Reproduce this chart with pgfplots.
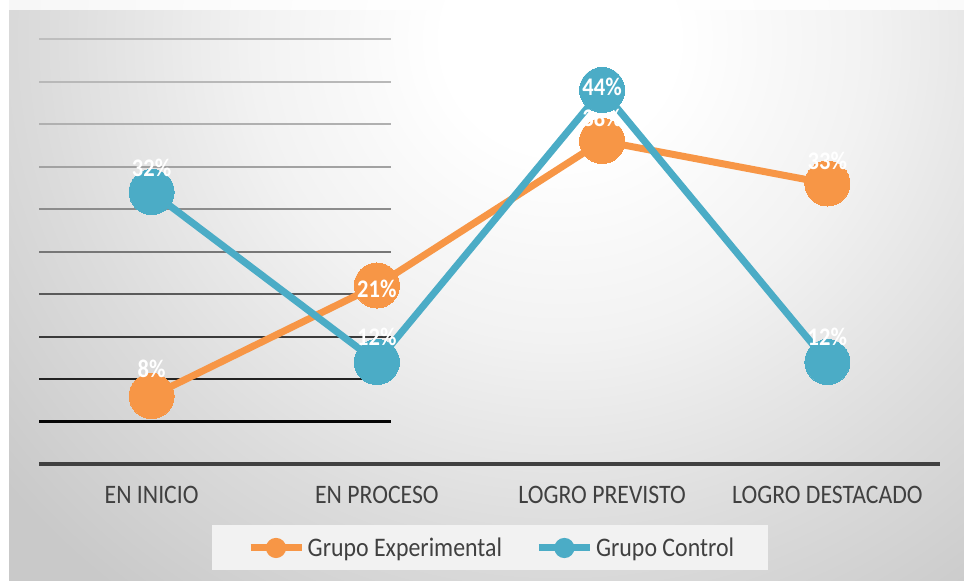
\documentclass[border=0pt]{standalone}
\usepackage{fontspec}
\usepackage{pgfplots}
\usepackage{pgfplotstable}
\pgfplotsset{compat=1.18}
\newfontfamily\catfont[FakeStretch=0.89]{Carlito}
\definecolor{orangeS}{HTML}{F79646}
\definecolor{blueS}{HTML}{4BACC6}
\definecolor{txtgray}{HTML}{404040}
\definecolor{bgA}{HTML}{FFFFFF}
\definecolor{bgB}{HTML}{F2F2F2}
\definecolor{bgC}{HTML}{DCDCDC}
\definecolor{bgD}{HTML}{C9C9C9}
\definecolor{legbg}{HTML}{F2F2F2}
\definecolor{g50}{HTML}{BEBEBE}
\definecolor{g45}{HTML}{B8B8B8}
\definecolor{g40}{HTML}{B0B0B0}
\definecolor{g35}{HTML}{A2A2A2}
\definecolor{g30}{HTML}{8C8C8C}
\definecolor{g25}{HTML}{777777}
\definecolor{g20}{HTML}{5A5A5A}
\definecolor{g15}{HTML}{3A3A3A}
\definecolor{g10}{HTML}{222222}
\definecolor{g05}{HTML}{050505}
\pgfdeclareradialshading{bgshade}{\pgfpointorigin}{color(0bp)=(bgA); color(4bp)=(bgA); color(10.7bp)=(bgB); color(17.9bp)=(bgC); color(25bp)=(bgD); color(50bp)=(bgD)}

\pgfplotstableread{
x y dy
0 8 20.6
1 21 -2.3
2 38 17.3
3 33 16.9
}\exptab
\pgfplotstableread{
x y dy
0 32 18
1 12 18.8
2 44 2.3
3 12 19.1
}\ctrltab

\pgfplotsset{
  labelled/.style={
    nodes near coords={\pgfmathprintnumber[assume math mode=true]{\pgfplotspointmeta}\%},
    visualization depends on={\thisrow{dy} \as \dy},
    every node near coord/.append style={anchor=center, yshift=\dy, text=white,
       font=\catfont\bfseries\fontsize{19pt}{20pt}\selectfont},
  },
  gridl/.style={forget plot, line width=1.5pt, no marks},
  legimg/.style={legend image code/.code={\draw[#1, line width=5.25pt] (0pt,0pt) -- (38.25pt,0pt);
     \fill[#1] (19.1pt,0pt) circle (4.9pt);}},
}

\begin{document}
\begin{tikzpicture}
\path[use as bounding box] (0,0) rectangle (723pt,-435.75pt);
\begin{scope}[x=0.75pt,y=-0.75pt]
\fill[white] (0,0) rectangle (964,581);
\begin{scope}
\clip (9,0) rectangle (964,581);
\fill[bgD] (9,0) rectangle (964,581);
\shade[shading=bgshade] (560,40) ellipse (720 and 700);
\end{scope}
\fill[white,opacity=0.8] (9,0) rectangle (964,10);
\fill[legbg] (212,525) rectangle (768,570);
\end{scope}
\begin{axis}[
  at={(29.25pt,-348pt)}, anchor=south west,
  scale only axis, width=675.75pt, height=318.75pt,
  xmin=-0.5, xmax=3.5, ymin=0, ymax=50, clip=false,
  axis y line=none, axis x line*=bottom, ytick=\empty,
  x axis line style={draw=txtgray, line width=2.5pt, -},
  xtick={0,1,2,3},
  xticklabels={EN INICIO, EN PROCESO, LOGRO PREVISTO, LOGRO DESTACADO},
  major tick length=0pt,
  xticklabel style={font=\catfont\fontsize{20pt}{24pt}\selectfont, text=txtgray, anchor=center, yshift=-22.9pt},
  legend style={draw=none, fill=none, at={(0.2309,-0.1976)}, anchor=west,
    inner sep=0pt, outer sep=0pt, font=\catfont\fontsize{20.1pt}{24pt}\selectfont,
    text=txtgray, nodes={inner sep=0pt},
    /tikz/every odd column/.append style={column sep=2pt},
    /tikz/every even column/.append style={column sep=25pt}},
  legend columns=2,
]
\addplot[gridl, g50] coordinates {(-0.5,50) (1.063,50)};
\addplot[gridl, g45] coordinates {(-0.5,45) (1.063,45)};
\addplot[gridl, g40] coordinates {(-0.5,40) (1.063,40)};
\addplot[gridl, g35] coordinates {(-0.5,35) (1.063,35)};
\addplot[gridl, g30] coordinates {(-0.5,30) (1.063,30)};
\addplot[gridl, g25] coordinates {(-0.5,25) (1.063,25)};
\addplot[gridl, g20] coordinates {(-0.5,20) (1.063,20)};
\addplot[gridl, g15] coordinates {(-0.5,15) (1.063,15)};
\addplot[gridl, g10, line width=1.8pt] coordinates {(-0.5,10) (1.063,10)};
\addplot[gridl, g05, line width=2pt] coordinates {(-0.5,5) (1.063,5)};
\addplot[orangeS, line width=5.25pt, mark=*, mark size=16.9pt,
  mark options={solid, fill=orangeS, draw=orangeS, line width=0pt}, labelled,
  legimg=orangeS]
  table[x=x, y=y] {\exptab};
\addlegendentry{Grupo Experimental}
\addplot[blueS, line width=5.25pt, mark=*, mark size=16.9pt,
  mark options={solid, fill=blueS, draw=blueS, line width=0pt}, labelled,
  legimg=blueS]
  table[x=x, y=y] {\ctrltab};
\addlegendentry{Grupo Control}
\end{axis}
\end{tikzpicture}
\end{document}
